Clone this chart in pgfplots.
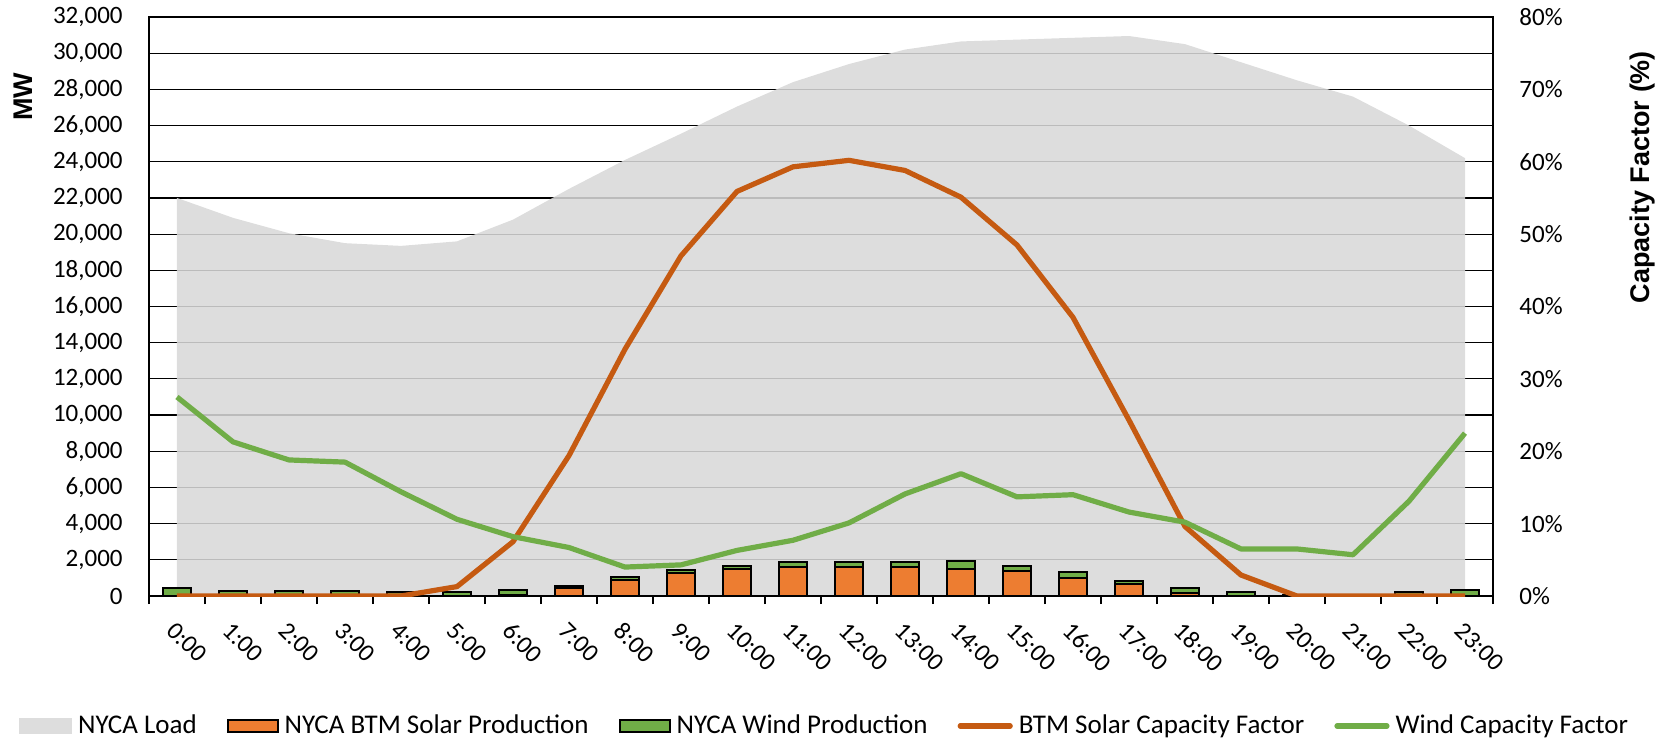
\documentclass[border=0pt]{standalone}
\usepackage{fontspec}
\setmainfont{Carlito}
\newfontfamily\arialfont{Liberation Sans}
\usepackage{pgfplots}
\pgfplotsset{compat=1.18}
\usepackage{pgfplotstable}

\definecolor{areagrey}{RGB}{216,216,216}
\definecolor{legendgrey}{RGB}{221,221,221}
\definecolor{solarbar}{RGB}{237,125,49}
\definecolor{windbar}{RGB}{112,173,71}
\definecolor{solarline}{RGB}{197,90,17}
\definecolor{windline}{RGB}{112,173,71}

\pgfplotstableread{
h load solar wind scf wcf
0 22000 0 450 0 27.5
1 20900 0 300 0 21.3
2 20050 0 300 0 18.8
3 19500 0 300 0 18.5
4 19350 0 200 0 14.4
5 19600 20 180 1.3 10.6
6 20800 50 290 7.5 8.2
7 22500 450 130 19.4 6.7
8 24100 900 150 34.1 4.0
9 25550 1280 130 47.0 4.3
10 27050 1510 170 55.9 6.3
11 28400 1620 280 59.3 7.7
12 29400 1600 300 60.2 10.1
13 30200 1600 300 58.8 14.1
14 30650 1510 400 55.1 16.9
15 30750 1400 260 48.5 13.7
16 30850 1020 280 38.5 14.0
17 30950 660 150 24.3 11.6
18 30500 190 260 9.6 10.2
19 29500 0 225 2.9 6.5
20 28500 0 60 0 6.5
21 27600 0 40 0 5.7
22 26000 0 200 0 13.1
23 24200 0 340 0 22.5
}\data

\begin{document}
\begin{tikzpicture}
\pgfplotsset{
  base/.style={scale only axis, width=672pt, height=289.5pt, at={(0,0)}, anchor=south west,
    xmin=-0.5, xmax=23.5},
  tickfont/.style={font=\fontsize{12.5}{15}\selectfont},
}
% Axis A: grid, left axis, load area
\begin{axis}[base, ymin=0, ymax=32000, ytick distance=2000,
  ymajorgrids, grid style={black, line width=0.6pt},
  axis line style={black, line width=0.8pt},
  xtick=\empty, ytick pos=left, major tick length=0pt,
  scaled y ticks=false,
  /pgf/number format/1000 sep={,},
  /pgf/number format/assume math mode=true,
  yticklabel style={tickfont, anchor=east, inner sep=0pt, xshift=-13pt}]
\addplot[fill=areagrey, fill opacity=0.867, draw=none] table[x=h, y=load] {\data} \closedcycle;
\end{axis}

% Axis B: stacked bars, x axis
\begin{axis}[base, ymin=0, ymax=32000,
  axis y line=none, axis x line*=bottom,
  axis line style={black, line width=0.8pt},
  ybar stacked, bar width=0.5,
  xtick={0,...,23},
  xticklabels={0:00,1:00,2:00,3:00,4:00,5:00,6:00,7:00,8:00,9:00,10:00,11:00,12:00,13:00,14:00,15:00,16:00,17:00,18:00,19:00,20:00,21:00,22:00,23:00},
  major tick length=0pt,
  minor xtick={-0.5,0.5,...,23.5}, minor tick length=4pt, tick align=outside,
  tick style={black, line width=0.8pt},
  xticklabel style={tickfont, yshift=-12pt, xshift=0pt, rotate=-45, anchor=north west, inner sep=0pt}]
\addplot[fill=solarbar, draw=black, line width=1pt] table[x=h, y=solar] {\data};
\addplot[fill=windbar, draw=black, line width=1pt] table[x=h, y=wind] {\data};
\end{axis}

% Axis C: capacity factor lines, right axis, legend
\begin{axis}[base, ymin=0, ymax=80,
  axis x line=none, axis y line*=right,
  axis line style={black, line width=0.8pt},
  ytick distance=10, major tick length=0pt,
  /pgf/number format/assume math mode=true,
  yticklabel={\pgfmathprintnumber{\tick}\%},
  yticklabel style={tickfont, anchor=west, inner sep=0pt, xshift=13pt},
  legend columns=5,
  legend cell align=left,
  legend style={draw=none, fill=none, at={(0,0)}, anchor=west, xshift=-65pt, yshift=-65pt,
    inner sep=0pt, font=\fontsize{13.5}{16}\selectfont,
    nodes={inner sep=0pt},
    /tikz/every odd column/.append style={column sep=3pt},
    /tikz/every even column/.append style={column sep=15pt}}]
\addlegendimage{legend image code/.code={\fill[legendgrey] (0pt,-3.6pt) rectangle (26pt,3.6pt);}}
\addlegendentry{NYCA Load}
\addlegendimage{legend image code/.code={\draw[fill=solarbar, draw=black, line width=1pt] (0.5pt,-3.2pt) rectangle (25.5pt,3.2pt);}}
\addlegendentry{NYCA BTM Solar Production}
\addlegendimage{legend image code/.code={\draw[fill=windbar, draw=black, line width=1pt] (0.5pt,-3.2pt) rectangle (25.5pt,3.2pt);}}
\addlegendentry{NYCA Wind Production}
\addplot[solarline, line width=2.6pt, line join=round,
  legend image code/.code={\draw[solarline, line width=2.6pt, line cap=round] (1pt,0pt) -- (26pt,0pt);}]
  table[x=h, y=scf] {\data};
\addlegendentry{BTM Solar Capacity Factor}
\addplot[windline, line width=2.6pt, line join=round,
  legend image code/.code={\draw[windline, line width=2.6pt, line cap=round] (1pt,0pt) -- (26pt,0pt);}]
  table[x=h, y=wcf] {\data};
\addlegendentry{Wind Capacity Factor}
\end{axis}

\node[rotate=90, font=\arialfont\bfseries\fontsize{13.5}{16}\selectfont] at (-63pt,249.5pt) {MW};
\node[rotate=90, font=\arialfont\bfseries\fontsize{13.5}{16}\selectfont] at (747pt,209.5pt) {Capacity Factor (\%)};

\pgfresetboundingbox
\path[use as bounding box] (-74.5pt,-72.5pt) rectangle (761pt,298pt);
\end{tikzpicture}
\end{document}
